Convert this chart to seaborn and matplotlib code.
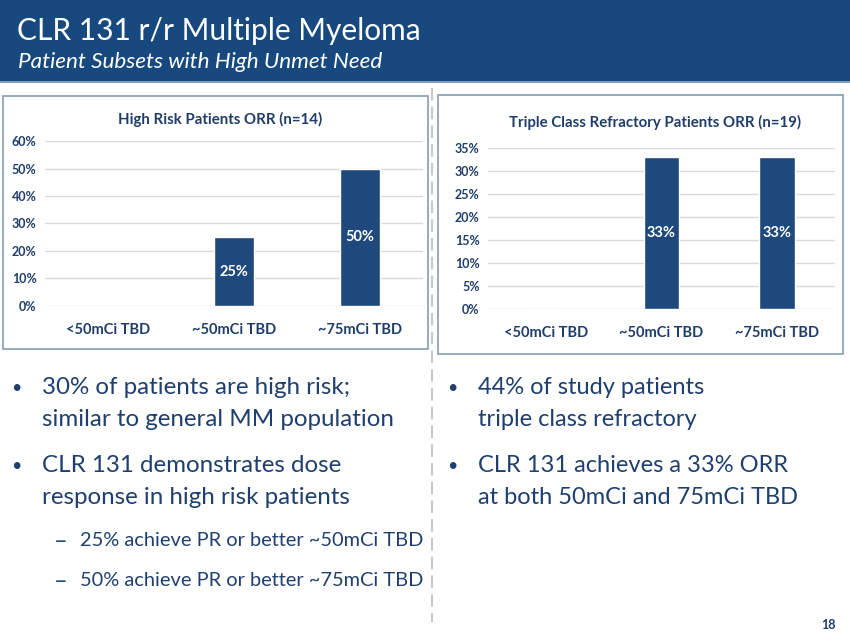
import matplotlib
matplotlib.use("Agg")
import matplotlib.pyplot as plt
import seaborn as sns
import pandas as pd
from matplotlib.patches import Rectangle
from matplotlib.lines import Line2D

sns.set_style("white")
plt.rcParams['font.family'] = ['Lato', 'DejaVu Sans']

# data
doses = ['<50mCi TBD', '~50mCi TBD', '~75mCi TBD']
high_risk_orr = [0, 25, 50]
triple_class_orr = [0, 33, 33]
high_risk_ticks = [0, 10, 20, 30, 40, 50, 60]
triple_class_ticks = [0, 5, 10, 15, 20, 25, 30, 35]

left_bullets = [['30% of patients are high risk;', 'similar to general MM population'],
                ['CLR 131 demonstrates dose', 'response in high risk patients']]
left_subs = ['25% achieve PR or better ~50mCi TBD',
             '50% achieve PR or better ~75mCi TBD']
right_bullets = [['44% of study patients', 'triple class refractory'],
                 ['CLR 131 achieves a 33% ORR', 'at both 50mCi and 75mCi TBD']]

NAVY = '#1f3d6b'
BAR = '#1f497d'
HEADER = '#17497f'
W, H = 850, 638


def fx(x):
    return x / W


def fy(y):
    return 1 - y / H


fig = plt.figure(figsize=(8.5, 6.38), dpi=100)

# header band
fig.patches.append(Rectangle((0, fy(81)), 1, 81 / H, transform=fig.transFigure,
                             facecolor=HEADER, edgecolor='none', zorder=-2))
fig.patches.append(Rectangle((0, fy(83)), 1, 2 / H, transform=fig.transFigure,
                             facecolor='#7f9cc0', edgecolor='none', zorder=-2))
fig.text(fx(17), fy(31), 'CLR 131 r/r Multiple Myeloma', color='white',
         fontsize=21.5, va='center', ha='left')
fig.text(fx(18), fy(62), 'Patient Subsets with High Unmet Need', color='white',
         fontsize=16.2, style='italic', va='center', ha='left')

# chart boxes
fig.patches.append(Rectangle((fx(3), fy(349)), fx(425), 253 / H, transform=fig.transFigure,
                             facecolor='white', edgecolor='#8a9bb5', linewidth=1.2, zorder=-2))
fig.patches.append(Rectangle((fx(438), fy(354)), fx(405), 259 / H, transform=fig.transFigure,
                             facecolor='white', edgecolor='#8a9bb5', linewidth=1.2, zorder=-2))

# dashed separator
fig.lines.append(Line2D([fx(432), fx(432)], [fy(88), fy(622)], transform=fig.transFigure,
                        color='#c8c8c8', linewidth=1.5, linestyle=(0, (6, 3)), zorder=-2))


def draw_chart(rect, values, ticks, title, title_x, title_y, bar_w):
    ax = fig.add_axes(rect)
    ax.set_zorder(3)
    df = pd.DataFrame({'dose': doses, 'orr': values})
    sns.barplot(data=df, x='dose', y='orr', color=BAR, saturation=1, width=bar_w, ax=ax)
    ax.set_ylim(ticks[0], ticks[-1])
    ax.set_yticks(ticks)
    ax.set_yticklabels([f'{t}%' for t in ticks], fontsize=9, fontweight='bold', color=NAVY)
    ax.set_xticks(range(len(doses)))
    ax.set_xticklabels(doses, fontsize=10.5, fontweight='bold', color=NAVY)
    ax.tick_params(axis='both', length=0)
    ax.tick_params(axis='x', pad=12)
    ax.tick_params(axis='y', pad=6)
    ax.set_xlabel('')
    ax.set_ylabel('')
    for s in ax.spines.values():
        s.set_visible(False)
    ax.yaxis.grid(True, color='#d9d9d9', linewidth=1)
    ax.set_axisbelow(True)
    ax.patch.set_alpha(0)
    labels = [f'{v}%' if v else '' for v in values]
    ax.bar_label(ax.containers[0], labels=labels, label_type='center',
                 color='white', fontsize=10.5, fontweight='bold')
    fig.text(fx(title_x), fy(title_y), title, ha='center', va='center', fontsize=10.8,
             fontweight='bold', color=NAVY)
    return ax


draw_chart([fx(45), fy(306), fx(378), 165 / H], high_risk_orr, high_risk_ticks,
           'High Risk Patients ORR (n=14)', 220, 119, 0.32)
draw_chart([fx(488), fy(309), fx(347), 161 / H], triple_class_orr, triple_class_ticks,
           'Triple Class Refractory Patients ORR (n=19)', 655, 122, 0.31)

# bullet text
TXT = '#1f3f6e'
bullet_y = [(388, 420), (466, 498)]
for (l1, l2), (y1, y2) in zip(left_bullets, bullet_y):
    fig.text(fx(16), fy(y1), '•', color=TXT, fontsize=13, ha='center', va='center')
    fig.text(fx(42), fy(y1), l1, color=TXT, fontsize=17.4, va='center')
    fig.text(fx(42), fy(y2), l2, color=TXT, fontsize=17.4, va='center')
for txt, y in zip(left_subs, [541, 581]):
    fig.text(fx(61), fy(y), '\u2013', color=TXT, fontsize=17, ha='center', va='center')
    fig.text(fx(80), fy(y), txt, color=TXT, fontsize=14.4, va='center')
for (l1, l2), (y1, y2) in zip(right_bullets, bullet_y):
    fig.text(fx(452), fy(y1), '•', color=TXT, fontsize=13, ha='center', va='center')
    fig.text(fx(478), fy(y1), l1, color=TXT, fontsize=17.0, va='center')
    fig.text(fx(478), fy(y2), l2, color=TXT, fontsize=17.0, va='center')

fig.text(fx(836), fy(625), '18', color=NAVY, fontsize=9, fontweight='bold',
         ha='right', va='center')

fig.savefig('out.png', dpi=100)
